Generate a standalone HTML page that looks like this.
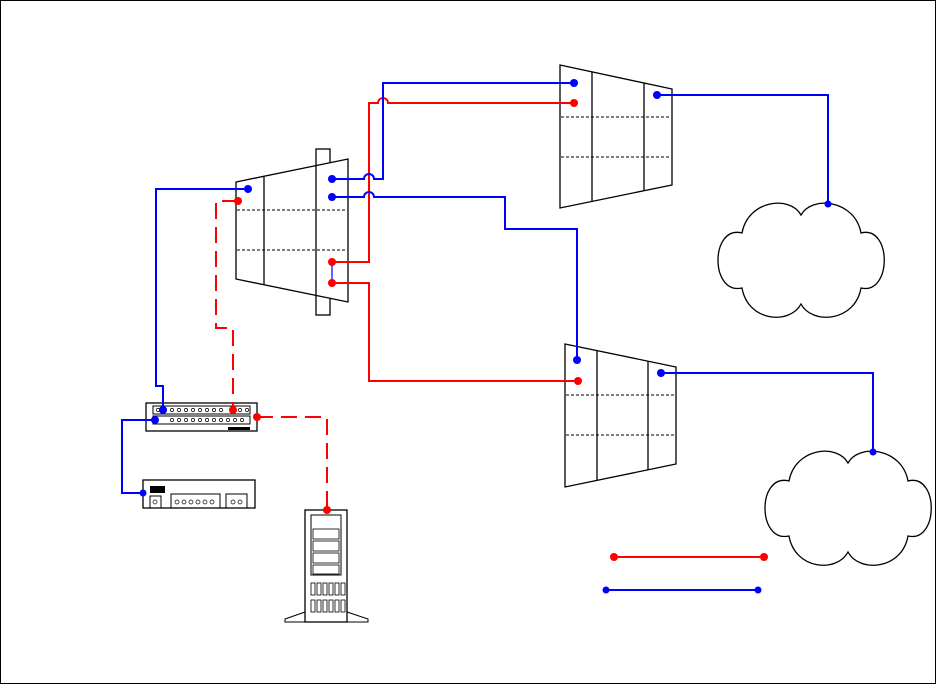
<!DOCTYPE html>
<html><head><style>body{margin:0;background:#fff}svg{display:block}</style></head><body>
<svg width="937" height="684" viewBox="0 0 937 684" xmlns="http://www.w3.org/2000/svg" font-family="Liberation Sans, sans-serif">
<rect x="0.5" y="0.5" width="935" height="683" fill="#fff" stroke="#000"/>
<g fill="none" stroke="#000" stroke-width="1.3">
<!-- left trapezoid -->
<rect x="316" y="149" width="14" height="166" fill="#fff"/>
<polygon points="236,182 348,159 348,302 236,279" fill="#fff"/>
<line x1="264" y1="177" x2="264" y2="285"/>
<line x1="316" y1="166" x2="316" y2="296"/>
<line x1="237" y1="210" x2="347" y2="210" stroke-dasharray="3,2" stroke-width="1"/>
<line x1="237" y1="250" x2="347" y2="250" stroke-dasharray="3,2" stroke-width="1"/>
<!-- top right -->
<polygon points="560,65 672,89 672,185 560,208"/>
<line x1="592" y1="72" x2="592" y2="201"/>
<line x1="644" y1="83" x2="644" y2="191"/>
<line x1="561" y1="117" x2="671" y2="117" stroke-dasharray="3,2" stroke-width="1"/>
<line x1="561" y1="157" x2="671" y2="157" stroke-dasharray="3,2" stroke-width="1"/>
<!-- bottom -->
<polygon points="565,344 676,367 676,464 565,487"/>
<line x1="597" y1="351" x2="597" y2="480"/>
<line x1="648" y1="361" x2="648" y2="470"/>
<line x1="566" y1="395" x2="675" y2="395" stroke-dasharray="3,2" stroke-width="1"/>
<line x1="566" y1="435" x2="675" y2="435" stroke-dasharray="3,2" stroke-width="1"/>
<!-- clouds -->
<path id="cl" d="M742,233 C748,200 790,195 801,215 C812,195 855,200 861,233 C892,225 892,295 861,288 C855,322 812,325 801,304 C790,325 748,322 742,288 C710,295 710,225 742,233 Z"/>
<use href="#cl" transform="translate(47,248)"/>
<!-- patch panel -->
<rect x="146" y="403" width="111" height="28"/>
<rect x="153" y="406" width="97" height="8" stroke-width="1"/>
<rect x="153" y="416" width="97" height="8" stroke-width="1"/>
<!-- router -->
<rect x="143" y="480" width="112" height="28"/>
<rect x="150" y="496" width="11" height="12" stroke-width="1"/>
<rect x="171" y="494" width="49" height="14" stroke-width="1"/>
<rect x="226" y="494" width="21" height="14" stroke-width="1"/>
<!-- server -->
<rect x="305" y="510" width="42" height="112"/>
<rect x="311" y="515" width="30" height="60" stroke-width="1"/>
<rect x="313" y="529" width="26" height="10" stroke-width="0.8"/>
<rect x="313" y="541" width="26" height="10" stroke-width="0.8"/>
<rect x="313" y="553" width="26" height="10" stroke-width="0.8"/>
<rect x="313" y="565" width="26" height="9" stroke-width="0.8"/>
<path d="M305,612 L285,619 L285,622 L368,622 L368,619 L347,612" stroke-width="1"/>
<g stroke-width="0.8">
<rect x="311" y="583" width="4" height="12"/><rect x="317" y="583" width="4" height="12"/><rect x="323" y="583" width="4" height="12"/><rect x="329" y="583" width="4" height="12"/><rect x="335" y="583" width="4" height="12"/><rect x="341" y="583" width="4" height="12"/>
<rect x="311" y="600" width="4" height="12"/><rect x="317" y="600" width="4" height="12"/><rect x="323" y="600" width="4" height="12"/><rect x="329" y="600" width="4" height="12"/><rect x="335" y="600" width="4" height="12"/><rect x="341" y="600" width="4" height="12"/>
</g>
</g>
<rect x="150" y="486" width="15" height="7" fill="#000"/>
<rect x="228" y="427" width="22" height="3" fill="#000"/>
<g fill="none" stroke="#000" stroke-width="0.7">
<circle cx="158" cy="410" r="1.6"/><circle cx="165" cy="410" r="1.6"/><circle cx="172" cy="410" r="1.6"/><circle cx="179" cy="410" r="1.6"/><circle cx="186" cy="410" r="1.6"/><circle cx="193" cy="410" r="1.6"/><circle cx="200" cy="410" r="1.6"/><circle cx="207" cy="410" r="1.6"/><circle cx="214" cy="410" r="1.6"/><circle cx="221" cy="410" r="1.6"/><circle cx="240" cy="410" r="1.6"/><circle cx="247" cy="410" r="1.6"/>
<circle cx="172" cy="420" r="1.6"/><circle cx="179" cy="420" r="1.6"/><circle cx="186" cy="420" r="1.6"/><circle cx="193" cy="420" r="1.6"/><circle cx="200" cy="420" r="1.6"/><circle cx="207" cy="420" r="1.6"/><circle cx="214" cy="420" r="1.6"/><circle cx="221" cy="420" r="1.6"/><circle cx="228" cy="420" r="1.6"/><circle cx="235" cy="420" r="1.6"/><circle cx="242" cy="420" r="1.6"/>
<circle cx="155" cy="502" r="2"/><circle cx="177" cy="502" r="2"/><circle cx="184" cy="502" r="2"/><circle cx="191" cy="502" r="2"/><circle cx="198" cy="502" r="2"/><circle cx="205" cy="502" r="2"/><circle cx="212" cy="502" r="2"/><circle cx="233" cy="502" r="2"/><circle cx="240" cy="502" r="2"/>
</g>
<!-- connectors -->
<g fill="none" stroke-width="2">
<path d="M248,189 H156 V386 H163 V410" stroke="#00f"/>
<path d="M155,420 H122 V493 H143" stroke="#00f"/>
<path d="M238,201 H216 V328 H233 V410" stroke="#f00" stroke-dasharray="16,8"/>
<path d="M257,417 H327 V510" stroke="#f00" stroke-dasharray="16,8"/>
<path d="M332,262 H369 V103 H378 A5,5 0 0 1 388,103 H574" stroke="#f00"/>
<path d="M332,283 H369 V381 H578" stroke="#f00"/>
<path d="M332,179 H364 A5,5 0 0 1 374,179 H383 V83 H574" stroke="#00f"/>
<path d="M332,197 H364 A5,5 0 0 1 374,197 H505 V229 H577 V360" stroke="#00f"/>
<path d="M657,95 H828 V204" stroke="#00f"/>
<path d="M661,373 H873 V452" stroke="#00f"/>
<path d="M614,557 H764" stroke="#f00"/>
<path d="M606,590 H758" stroke="#00f"/>
<path d="M332,262 V283" stroke="#00f" stroke-width="1.2"/>
</g>
<g fill="#00f">
<circle cx="248" cy="189" r="4"/><circle cx="332" cy="179" r="4"/><circle cx="332" cy="197" r="4"/><circle cx="574" cy="83" r="4"/><circle cx="657" cy="95" r="4"/><circle cx="577" cy="360" r="4"/><circle cx="661" cy="373" r="4"/><circle cx="828" cy="204" r="3.5"/><circle cx="873" cy="452" r="3.5"/><circle cx="163" cy="410" r="4"/><circle cx="155" cy="420" r="4"/><circle cx="143" cy="493" r="3.5"/><circle cx="606" cy="590" r="3.5"/><circle cx="758" cy="590" r="3.5"/>
</g>
<g fill="#f00">
<circle cx="238" cy="201" r="4"/><circle cx="332" cy="262" r="4"/><circle cx="332" cy="283" r="4"/><circle cx="574" cy="103" r="4"/><circle cx="578" cy="381" r="4"/><circle cx="233" cy="410" r="4"/><circle cx="257" cy="417" r="4"/><circle cx="327" cy="510" r="4"/><circle cx="614" cy="557" r="4"/><circle cx="764" cy="557" r="4"/>
</g>
</svg>
</body></html>
